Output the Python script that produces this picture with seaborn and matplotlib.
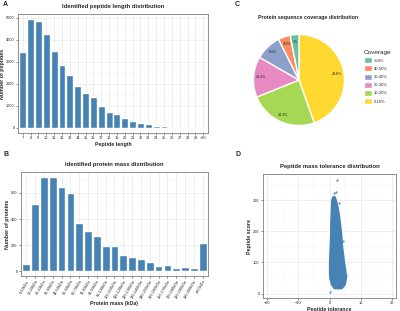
import matplotlib
matplotlib.use("Agg")
import matplotlib.pyplot as plt
from matplotlib.patches import Patch
from matplotlib.ticker import MultipleLocator
import seaborn as sns

# --- data ---
pep_len = [str(i) for i in range(7, 30)] + [">30"]
pep_cnt = [3420, 4925, 4840, 4260, 3470, 2860, 2380, 1900, 1590, 1380, 980, 730,
           610, 450, 300, 210, 150, 90, 75, 45, 30, 30, 15, 15]

mass_bins = ["%d-%dkDa" % (i, i + 10) for i in range(0, 200, 10)] + [">200kDa"]
mass_cnt = [53, 514, 724, 719, 643, 597, 372, 309, 273, 192, 192, 127, 111, 96,
            71, 43, 46, 25, 33, 28, 220]

cov_groups = ["0-10%", "10-20%", "20-30%", "30-40%", "40-50%", ">50%"]
cov_share = [44.6, 24.3, 14.4, 9.3, 4.3, 3.1]
cov_labels = ["44.6%", "24.3%", "14.4%", "9.3%", "4.3%", "3%"]
cov_colors = ["#FFD92F", "#A6D854", "#E78AC3", "#8DA0CB", "#FC8D62", "#66C2A5"]

# outline of the dense tolerance/score cloud
cloud_score = [18, 30, 50, 75, 100, 125, 150, 175, 200, 225, 250, 275, 300, 312]
cloud_left = [1.4, 0.6, 0.0, -0.1, -0.1, 0.0, 0.1, 0.2, 0.3, 0.3, 0.4, 0.5, 0.6, 1.0]
cloud_right = [3.8, 4.8, 5.2, 5.0, 4.6, 4.3, 4.0, 3.8, 3.6, 3.3, 3.0, 2.6, 2.0, 1.6]
out_tol = [2.5, 2.0, 1.4, 3.2, 0.0, 4.4, 5.3]
out_score = [366, 327, 322, 290, 5, 170, 60]

bar_col = "#4682B4"

sns.set_style("whitegrid")
plt.rcParams["font.family"] = ["Liberation Sans", "DejaVu Sans"]

fig = plt.figure(figsize=(4, 3.11), dpi=100)
W, H = 400, 311


def box(l, t, r, b):
    return [l / W, 1 - b / H, (r - l) / W, (b - t) / H]


def style(ax, minor_y=None, minor_x=None):
    ax.set_facecolor("white")
    for s in ax.spines.values():
        s.set_color("#7f7f7f")
        s.set_linewidth(0.6)
        s.set_visible(True)
    ax.grid(True, which="major", color="#e3e3e3", linewidth=0.4)
    if minor_y:
        ax.yaxis.set_minor_locator(MultipleLocator(minor_y))
    if minor_x:
        ax.xaxis.set_minor_locator(MultipleLocator(minor_x))
    ax.grid(True, which="minor", color="#f2f2f2", linewidth=0.3)
    ax.tick_params(which="major", length=1.5, width=0.4, color="#333333",
                   labelsize=2.8, pad=1, bottom=True, left=True)
    ax.tick_params(which="minor", length=0)
    ax.set_axisbelow(True)


tfont = dict(fontsize=4.2, fontweight="bold")
lfont = dict(fontsize=3.8, fontweight="bold")

# === A: peptide length ===
axA = fig.add_axes(box(18, 14, 208, 133))
sns.barplot(x=pep_len, y=pep_cnt, color=bar_col, width=0.88, saturation=1,
            ax=axA, order=pep_len)
style(axA, minor_y=500)
axA.set_xlim(-0.6, len(pep_len) - 0.4)
axA.set_ylim(-0.05 * max(pep_cnt), 1.05 * max(pep_cnt))
axA.set_yticks([0, 1000, 2000, 3000, 4000, 5000])
axA.set_title("Identified peptide length distribution", pad=4, **tfont)
axA.set_xlabel("Peptide length", labelpad=1, **lfont)
axA.set_ylabel("Number of peptides", labelpad=1, **lfont)

# === B: protein mass ===
axB = fig.add_axes(box(21, 172, 208, 276))
sns.barplot(x=mass_bins, y=mass_cnt, color=bar_col, width=0.88, saturation=1,
            ax=axB, order=mass_bins)
style(axB, minor_y=100)
axB.set_xlim(-0.6, len(mass_bins) - 0.4)
axB.set_ylim(-0.05 * max(mass_cnt), 1.05 * max(mass_cnt))
axB.set_yticks([0, 200, 400, 600])
axB.set_xticks(range(len(mass_bins)))
axB.set_xticklabels(mass_bins, rotation=60, ha="right", rotation_mode="anchor")
axB.set_title("Identified protein mass distribution", pad=4, **tfont)
axB.set_xlabel("Protein mass (kDa)", labelpad=1, **lfont)
axB.set_ylabel("Number of proteins", labelpad=1, **lfont)

# === C: coverage pie ===
axC = fig.add_axes(box(253, 34, 345, 126))
wedges, _, autotexts = axC.pie(cov_share, colors=cov_colors, startangle=90,
                               counterclock=False, autopct="%.1f%%",
                               pctdistance=0.84, radius=1,
                               textprops=dict(fontsize=2.6, color="#222222"))
for t, lab in zip(autotexts, cov_labels):
    t.set_text(lab)
axC.set_xlim(-1.01, 1.01)
axC.set_ylim(-1.01, 1.01)
axC.set_aspect("equal")
fig.text(308 / W, 1 - 18 / H, "Protein sequence coverage distribution",
         ha="center", va="center", fontsize=3.8, fontweight="bold")
handles = [Patch(facecolor=c, label=g) for g, c in zip(cov_groups, cov_colors)]
leg = fig.legend(handles=handles[::-1], title="Coverage", loc="upper left",
                 bbox_to_anchor=(364 / W, 1 - 50 / H), frameon=False,
                 fontsize=3, title_fontsize=4.6, handlelength=1.8,
                 handleheight=1.8, labelspacing=0.55, handletextpad=0.6,
                 borderaxespad=0, borderpad=0)
leg._legend_box.align = "left"

# === D: tolerance scatter ===
axD = fig.add_axes(box(263, 174, 396, 298))
axD.fill_betweenx(cloud_score, cloud_left, cloud_right, color=bar_col,
                  linewidth=1.2, edgecolor=bar_col)
sns.scatterplot(x=out_tol, y=out_score, ax=axD, color=bar_col, s=3,
                linewidth=0, alpha=0.8)
style(axD, minor_y=50, minor_x=5)
axD.set_xlim(-21.3, 21.3)
axD.set_ylim(-14, 384)
axD.set_xticks([-20, -10, 0, 10, 20])
axD.set_yticks([0, 100, 200, 300])
axD.set_title("Peptide mass tolerance distribution", pad=4, **tfont)
axD.set_xlabel("Peptide tolerance", labelpad=1, **lfont)
axD.set_ylabel("Peptide score", labelpad=1, **lfont)

# panel letters
for letter, (x, y) in zip("ABCD", [(3, 5), (3, 155), (235, 5), (235, 155)]):
    fig.text(x / W, 1 - y / H, letter, fontsize=5, fontweight="bold",
             ha="left", va="center")

fig.savefig("out.png", dpi=100, facecolor="white")
